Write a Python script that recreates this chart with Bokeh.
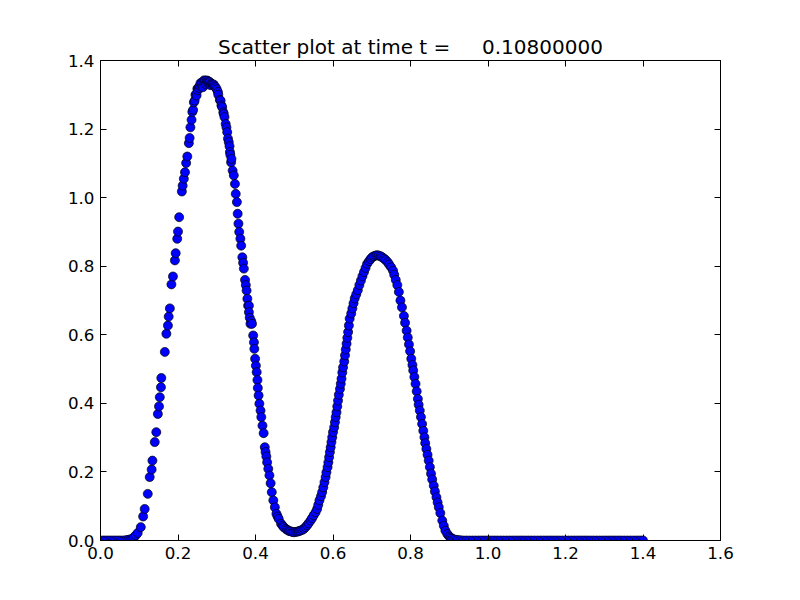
from bokeh.plotting import figure
from bokeh.models import Range1d, FixedTicker, PrintfTickFormatter, LinearAxis, CustomJSTickFormatter, ColumnDataSource
from bokeh.embed import file_html
from bokeh.resources import INLINE

title_text = "Scatter plot at time t =\u00a0\u00a0\u00a0\u00a0\u00a00.10800000"
x_ticks = [0.0, 0.2, 0.4, 0.6, 0.8, 1.0, 1.2, 1.4, 1.6]
y_ticks = [0.0, 0.2, 0.4, 0.6, 0.8, 1.0, 1.2, 1.4]

# left flat tail
x_tail_left = [0.004, 0.011, 0.018, 0.025, 0.032, 0.039, 0.046, 0.053, 0.060, 0.066, 0.072, 0.077, 0.082, 0.086]
y_tail_left = [0.0, 0.0, 0.0, 0.0, 0.0, 0.0, 0.0, 0.0, 0.0, 0.001, 0.002, 0.003, 0.005, 0.009]

# rising flank of first peak (sparse)
x_rise1 = [0.091, 0.096, 0.104, 0.110, 0.114, 0.122, 0.127, 0.132, 0.134, 0.140, 0.144, 0.148, 0.151,
           0.153, 0.156, 0.157, 0.166, 0.170, 0.174, 0.176, 0.179, 0.183, 0.187, 0.192, 0.194, 0.198,
           0.200, 0.203, 0.210, 0.212, 0.215, 0.218, 0.221, 0.224, 0.228, 0.230, 0.232, 0.235, 0.237,
           0.239, 0.241, 0.243, 0.245, 0.248, 0.250, 0.251]
y_rise1 = [0.015, 0.022, 0.039, 0.070, 0.092, 0.136, 0.185, 0.207, 0.233, 0.287, 0.316, 0.369, 0.391,
           0.418, 0.447, 0.474, 0.550, 0.603, 0.627, 0.653, 0.677, 0.747, 0.770, 0.817, 0.838, 0.880,
           0.901, 0.943, 1.018, 1.035, 1.055, 1.074, 1.101, 1.120, 1.159, 1.174, 1.205, 1.227, 1.250,
           1.256, 1.278, 1.283, 1.300, 1.298, 1.318, 1.313]

# top of first peak
x_peak1 = [0.254, 0.256, 0.258, 0.261, 0.262, 0.264, 0.266, 0.267, 0.270, 0.272, 0.274, 0.276, 0.278,
           0.279, 0.282, 0.284, 0.286, 0.288, 0.290, 0.292, 0.294, 0.297]
y_peak1 = [1.320, 1.326, 1.334, 1.330, 1.336, 1.322, 1.338, 1.342, 1.341, 1.330, 1.342, 1.335, 1.340,
           1.337, 1.337, 1.328, 1.333, 1.331, 1.329, 1.330, 1.325, 1.322]

# falling flank of first peak (dense)
x_fall1 = [0.300, 0.303, 0.304, 0.308, 0.310, 0.312, 0.314, 0.317, 0.318, 0.320, 0.323, 0.325, 0.327,
           0.329, 0.331, 0.333, 0.334, 0.335, 0.337, 0.338, 0.341, 0.344, 0.347, 0.349, 0.352, 0.354,
           0.356, 0.358, 0.361, 0.363, 0.366, 0.368, 0.370, 0.373, 0.375, 0.377, 0.379, 0.381, 0.383,
           0.383, 0.385, 0.387, 0.389, 0.391, 0.394, 0.396, 0.397, 0.399, 0.401, 0.403, 0.405, 0.406,
           0.408, 0.410, 0.413, 0.415, 0.418, 0.421, 0.424, 0.426, 0.428, 0.430, 0.433, 0.436, 0.439,
           0.442, 0.446, 0.450, 0.454, 0.457]
y_fall1 = [1.316, 1.308, 1.300, 1.285, 1.283, 1.269, 1.264, 1.249, 1.244, 1.235, 1.215, 1.205, 1.191,
           1.172, 1.162, 1.150, 1.133, 1.125, 1.103, 1.113, 1.079, 1.065, 1.040, 1.011, 0.987, 0.953,
           0.924, 0.900, 0.880, 0.860, 0.826, 0.810, 0.793, 0.760, 0.745, 0.729, 0.705, 0.685, 0.685,
           0.666, 0.650, 0.632, 0.640, 0.632, 0.598, 0.578, 0.559, 0.530, 0.510, 0.491, 0.468, 0.445,
           0.423, 0.399, 0.379, 0.360, 0.335, 0.313, 0.272, 0.258, 0.245, 0.228, 0.209, 0.190, 0.167,
           0.141, 0.117, 0.097, 0.078, 0.070]

# trough and second peak
x_hump2 = [0.460, 0.466, 0.470, 0.473, 0.478, 0.482, 0.486, 0.490, 0.495, 0.499, 0.504, 0.508, 0.512,
           0.516, 0.521, 0.525, 0.529, 0.533, 0.537, 0.542, 0.546, 0.550, 0.555, 0.559, 0.562, 0.565,
           0.569, 0.572, 0.575, 0.578, 0.581, 0.583, 0.586, 0.588, 0.590, 0.592, 0.594, 0.596, 0.598,
           0.600, 0.603, 0.605, 0.607, 0.609, 0.611, 0.613, 0.615, 0.618, 0.620, 0.622, 0.624, 0.626,
           0.629, 0.631, 0.633, 0.635, 0.637, 0.639, 0.641, 0.643, 0.647, 0.650, 0.653, 0.656, 0.660,
           0.664, 0.668, 0.672, 0.676, 0.680, 0.684, 0.688, 0.693, 0.697, 0.701, 0.705, 0.710, 0.714,
           0.718, 0.723, 0.727, 0.732, 0.736, 0.741, 0.745, 0.750, 0.755, 0.758, 0.762, 0.766, 0.770,
           0.774, 0.778, 0.783, 0.786, 0.790, 0.793, 0.796, 0.799, 0.802, 0.805, 0.807, 0.810, 0.813,
           0.816, 0.819, 0.821, 0.824, 0.827, 0.830, 0.833, 0.836, 0.838, 0.841, 0.844, 0.847, 0.850,
           0.853, 0.856, 0.860, 0.863, 0.867, 0.870, 0.873, 0.877, 0.882, 0.886, 0.890, 0.895, 0.900,
           0.904, 0.908]
y_hump2 = [0.063, 0.049, 0.043, 0.039, 0.034, 0.031, 0.028, 0.027, 0.025, 0.024, 0.025, 0.026, 0.027,
           0.029, 0.031, 0.034, 0.039, 0.044, 0.050, 0.058, 0.065, 0.073, 0.082, 0.092, 0.104, 0.117,
           0.129, 0.141, 0.155, 0.170, 0.185, 0.199, 0.214, 0.228, 0.243, 0.258, 0.272, 0.287, 0.301,
           0.316, 0.330, 0.345, 0.360, 0.374, 0.391, 0.408, 0.425, 0.442, 0.457, 0.472, 0.490, 0.505,
           0.522, 0.540, 0.557, 0.574, 0.591, 0.608, 0.627, 0.647, 0.662, 0.677, 0.692, 0.706, 0.718,
           0.730, 0.745, 0.758, 0.771, 0.783, 0.795, 0.807, 0.815, 0.821, 0.826, 0.829, 0.831, 0.832,
           0.831, 0.829, 0.826, 0.822, 0.818, 0.812, 0.805, 0.797, 0.787, 0.775, 0.760, 0.745, 0.725,
           0.700, 0.680, 0.655, 0.635, 0.612, 0.592, 0.572, 0.552, 0.530, 0.512, 0.496, 0.477, 0.457,
           0.435, 0.413, 0.396, 0.379, 0.360, 0.340, 0.320, 0.301, 0.284, 0.267, 0.250, 0.233, 0.214,
           0.195, 0.178, 0.160, 0.143, 0.126, 0.111, 0.097, 0.080, 0.058, 0.043, 0.029, 0.019, 0.012,
           0.008, 0.005]

# right flat tail
x_tail_right = [0.913, 0.920, 0.928, 0.936, 0.944, 0.952, 0.960, 0.968, 0.976, 0.984, 0.992, 1.000,
                1.008, 1.016, 1.024, 1.032, 1.040, 1.048, 1.056, 1.064, 1.072, 1.080, 1.088, 1.096,
                1.104, 1.112, 1.120, 1.128, 1.136, 1.144, 1.152, 1.160, 1.168, 1.176, 1.184, 1.192,
                1.200, 1.208, 1.216, 1.224, 1.232, 1.240, 1.248, 1.256, 1.264, 1.272, 1.280, 1.288,
                1.296, 1.304, 1.312, 1.320, 1.328, 1.336, 1.344, 1.352, 1.360, 1.368, 1.376, 1.384,
                1.392, 1.400]
y_tail_right = [0.003, 0.002, 0.001] + [0.0] * 59

xs = x_tail_left + x_rise1 + x_peak1 + x_fall1 + x_hump2 + x_tail_right
ys = y_tail_left + y_rise1 + y_peak1 + y_fall1 + y_hump2 + y_tail_right
src = ColumnDataSource(data=dict(x=xs, y=ys))

FONT = "DejaVu Sans"

p = figure(width=790, height=592, output_backend="svg", toolbar_location=None,
           x_range=Range1d(0, 1.6), y_range=Range1d(0, 1.4),
           min_border_left=100, min_border_right=70, min_border_top=60, min_border_bottom=52,
           title=title_text)
p.title.text_font = FONT
p.title.text_font_size = "20px"
p.title.text_font_style = "normal"
p.title.align = "center"
p.title.text_color = "black"
p.title.standoff = 4

p.xgrid.visible = False
p.ygrid.visible = False
p.outline_line_color = "black"
p.outline_line_width = 1
p.outline_line_alpha = 1
p.background_fill_color = "white"
p.border_fill_color = "white"

for ax, ticks in ((p.xaxis[0], x_ticks), (p.yaxis[0], y_ticks)):
    ax.ticker = FixedTicker(ticks=ticks)
    ax.formatter = PrintfTickFormatter(format="%.1f")
    ax.major_tick_in = 6
    ax.major_tick_out = 0
    ax.minor_tick_in = 0
    ax.minor_tick_out = 0
    ax.major_label_text_font = FONT
    ax.major_label_text_font_size = "16.7px"
    ax.major_label_text_color = "black"
    ax.axis_line_color = "black"
    ax.major_tick_line_color = "black"
    ax.major_label_standoff = 6

top_ax = LinearAxis(ticker=FixedTicker(ticks=x_ticks), formatter=CustomJSTickFormatter(code="return ''"))
right_ax = LinearAxis(ticker=FixedTicker(ticks=y_ticks), formatter=CustomJSTickFormatter(code="return ''"))
for ax in (top_ax, right_ax):
    ax.major_tick_in = 6
    ax.major_tick_out = 0
    ax.minor_tick_in = 0
    ax.minor_tick_out = 0
    ax.major_label_standoff = 0
    ax.axis_line_color = "black"
    ax.major_tick_line_color = "black"
p.add_layout(top_ax, "above")
p.add_layout(right_ax, "right")

p.scatter("x", "y", source=src, size=9, fill_color="#0000ff", line_color="black", line_width=0.7)

open("out.html", "w").write(file_html(p, INLINE))
